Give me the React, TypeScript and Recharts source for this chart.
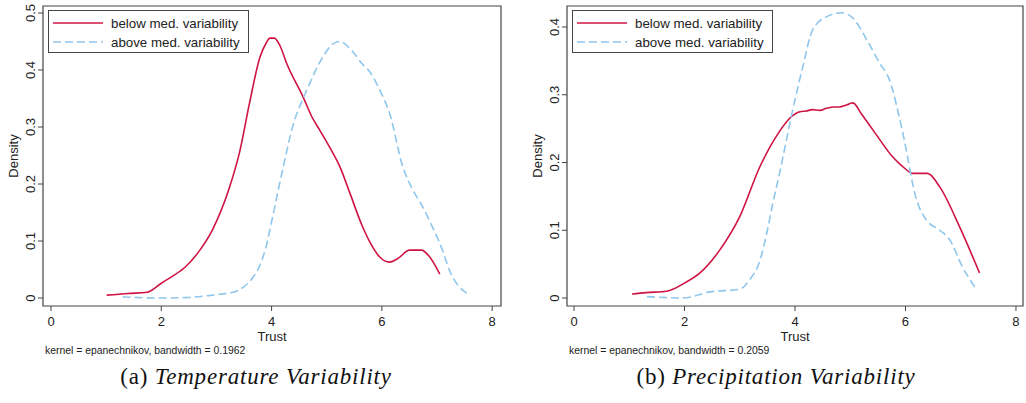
import React from "react";
import { LineChart, Line, XAxis, YAxis, ReferenceArea, Legend } from "recharts";

// Kernel density estimates of Trust
const tempBelow: [number, number][] = [
  [1.01, 0.005], [1.4, 0.008], [1.74, 0.01], [2.0, 0.026], [2.2, 0.038],
  [2.43, 0.054], [2.7, 0.084], [2.93, 0.12], [3.24, 0.195], [3.42, 0.256],
  [3.6, 0.342], [3.79, 0.423], [3.9, 0.447], [3.97, 0.456], [4.05, 0.456],
  [4.15, 0.443], [4.28, 0.41], [4.57, 0.353], [4.73, 0.318], [4.87, 0.295],
  [5.05, 0.265], [5.24, 0.23], [5.42, 0.184], [5.65, 0.125], [5.8, 0.095],
  [5.96, 0.072], [6.14, 0.063], [6.3, 0.07], [6.5, 0.084], [6.72, 0.084],
  [6.85, 0.074], [7.05, 0.042],
];
const tempAbove: [number, number][] = [
  [1.3, 0.002], [1.97, 0.0], [2.5, 0.001], [2.83, 0.004], [3.1, 0.007],
  [3.3, 0.01], [3.5, 0.02], [3.66, 0.036], [3.8, 0.06], [3.9, 0.09],
  [4.02, 0.143], [4.2, 0.225], [4.38, 0.3], [4.64, 0.365], [4.93, 0.423],
  [5.1, 0.445], [5.24, 0.45], [5.42, 0.438], [5.65, 0.41], [5.78, 0.397],
  [5.96, 0.365], [6.14, 0.324], [6.38, 0.23], [6.56, 0.19], [6.74, 0.16],
  [6.9, 0.128], [7.05, 0.096], [7.28, 0.037], [7.4, 0.02], [7.55, 0.008],
];
const precipBelow: [number, number][] = [
  [1.05, 0.006], [1.3, 0.008], [1.68, 0.01], [2.0, 0.022], [2.28, 0.037],
  [2.64, 0.071], [3.0, 0.12], [3.36, 0.193], [3.72, 0.246], [3.9, 0.265],
  [4.09, 0.275], [4.2, 0.276], [4.32, 0.278], [4.45, 0.277], [4.57, 0.28],
  [4.7, 0.282], [4.81, 0.282], [4.9, 0.284], [5.05, 0.288], [5.2, 0.272],
  [5.35, 0.255], [5.48, 0.24], [5.77, 0.208], [5.95, 0.194], [6.13, 0.184],
  [6.4, 0.184], [6.62, 0.164], [6.98, 0.105], [7.34, 0.037],
];
const precipAbove: [number, number][] = [
  [1.32, 0.002], [1.97, 0.0], [2.46, 0.009], [3.0, 0.013], [3.18, 0.027],
  [3.36, 0.054], [3.5, 0.1], [3.6, 0.14], [3.72, 0.184], [3.96, 0.278],
  [4.14, 0.341], [4.32, 0.396], [4.57, 0.415], [4.85, 0.421], [5.05, 0.413],
  [5.3, 0.381], [5.53, 0.347], [5.71, 0.322], [5.95, 0.244], [6.2, 0.145],
  [6.38, 0.115], [6.62, 0.1], [6.8, 0.086], [7.03, 0.046], [7.29, 0.012],
];

const trustTicks = [0, 2, 4, 6, 8];
const tempDensityTicks = [0, 0.1, 0.2, 0.3, 0.4, 0.5];
const precipDensityTicks = [0, 0.1, 0.2, 0.3, 0.4];
const seriesNames = ["below med. variability", "above med. variability"];

const RED = "#cf1444";
const BLUE = "#8fc6ec";
const DASH = "8 4";
const AXIS = "#444";
const INK = "#222";
const SANS = "'Liberation Sans', Arial, sans-serif";
const SERIF = "'Liberation Serif', 'Times New Roman', serif";

const toPoints = (arr: [number, number][]) => arr.map(([x, y]) => ({ x, y }));

function YTick(props: any) {
  const { x, y, payload } = props;
  return (
    <text
      x={x}
      y={y}
      transform={`rotate(-90 ${x} ${y})`}
      textAnchor="middle"
      fontSize={13}
      fill={INK}
      fontFamily={SANS}
    >
      {String(payload.value)}
    </text>
  );
}

function LegendBox() {
  return (
    <svg width={201} height={43} style={{ display: "block" }}>
      <rect x={0.5} y={0.5} width={200} height={42} fill="#fff" stroke={AXIS} strokeWidth={1} />
      <line x1={5} x2={55} y1={13} y2={13} stroke={RED} strokeWidth={1.6} />
      <line x1={5} x2={55} y1={32} y2={32} stroke={BLUE} strokeWidth={1.6} strokeDasharray={DASH} />
      <text x={63} y={18} fontSize={13.3} fill={INK} fontFamily={SANS}>{seriesNames[0]}</text>
      <text x={63} y={37} fontSize={13.3} fill={INK} fontFamily={SANS}>{seriesNames[1]}</text>
    </svg>
  );
}

interface PanelProps {
  left: number;
  width: number;
  yAxisWidth: number;
  marginRight: number;
  xDomain: [number, number];
  yDomain: [number, number];
  yTicks: number[];
  below: [number, number][];
  above: [number, number][];
}

function DensityPanel({ left, width, yAxisWidth, marginRight, xDomain, yDomain, yTicks, below, above }: PanelProps) {
  return (
    <div style={{ position: "absolute", left, top: 0 }}>
      <LineChart width={width} height={346} margin={{ top: 6, right: marginRight, bottom: 0, left: 0 }}>
        <XAxis
          type="number"
          dataKey="x"
          domain={xDomain}
          allowDataOverflow
          ticks={trustTicks}
          tickSize={5}
          tickMargin={6}
          axisLine={false}
          tickLine={{ stroke: AXIS }}
          tick={{ fontSize: 13, fill: INK, fontFamily: SANS }}
          height={40}
          label={{
            content: (p: any) => {
              const vb = p.viewBox;
              return (
                <text x={vb.x + vb.width / 2} y={vb.y + 34.5} textAnchor="middle" fontSize={13} fill={INK} fontFamily={SANS}>
                  Trust
                </text>
              );
            },
          }}
        />
        <YAxis
          type="number"
          domain={yDomain}
          allowDataOverflow
          ticks={yTicks}
          width={yAxisWidth}
          tickSize={5}
          tickMargin={3}
          axisLine={false}
          tickLine={{ stroke: AXIS }}
          tick={<YTick />}
          label={{
            content: (p: any) => {
              const vb = p.viewBox;
              const bx = vb.x + vb.width - 25;
              const by = vb.y + vb.height / 2;
              return (
                <text x={bx} y={by} transform={`rotate(-90 ${bx} ${by})`} textAnchor="middle" fontSize={13} fill={INK} fontFamily={SANS}>
                  Density
                </text>
              );
            },
          }}
        />
        <ReferenceArea
          x1={xDomain[0]}
          x2={xDomain[1]}
          y1={yDomain[0]}
          y2={yDomain[1]}
          fill="none"
          stroke={AXIS}
          strokeWidth={1.2}
        />
        <Line
          data={toPoints(below)}
          dataKey="y"
          name={seriesNames[0]}
          type="monotone"
          stroke={RED}
          strokeWidth={1.6}
          dot={false}
          isAnimationActive={false}
        />
        <Line
          data={toPoints(above)}
          dataKey="y"
          name={seriesNames[1]}
          type="monotone"
          stroke={BLUE}
          strokeWidth={1.6}
          strokeDasharray={DASH}
          dot={false}
          isAnimationActive={false}
        />
        <Legend
          verticalAlign="middle"
          content={() => <LegendBox />}
          wrapperStyle={{ top: 10, left: yAxisWidth + 5, width: 201, height: 43 }}
        />
      </LineChart>
    </div>
  );
}

function Caption({ left, label, title }: { left: number; label: string; title: string }) {
  return (
    <div
      style={{
        position: "absolute",
        left,
        top: 364,
        width: 400,
        textAlign: "center",
        fontFamily: SERIF,
        fontSize: 23,
        letterSpacing: 0.8,
        color: "#111",
        whiteSpace: "nowrap",
      }}
    >
      {label} <i>{title}</i>
    </div>
  );
}

function Note({ left, text }: { left: number; text: string }) {
  return (
    <div
      style={{
        position: "absolute",
        left,
        top: 345,
        fontFamily: SANS,
        fontSize: 10.4,
        color: INK,
        whiteSpace: "nowrap",
      }}
    >
      {text}
    </div>
  );
}

export default function App() {
  return (
    <div style={{ position: "absolute", left: 0, top: 0, width: 1026, height: 403, background: "#fff", overflow: "hidden" }}>
      <DensityPanel
        left={0}
        width={515}
        yAxisWidth={43}
        marginRight={14}
        xDomain={[-0.145, 8.16]}
        yDomain={[-0.014, 0.5123]}
        yTicks={tempDensityTicks}
        below={tempBelow}
        above={tempAbove}
      />
      <DensityPanel
        left={520}
        width={506}
        yAxisWidth={47}
        marginRight={3}
        xDomain={[-0.127, 8.127]}
        yDomain={[-0.0118, 0.431]}
        yTicks={precipDensityTicks}
        below={precipBelow}
        above={precipAbove}
      />
      <Note left={45} text="kernel = epanechnikov, bandwidth = 0.1962" />
      <Note left={569} text="kernel = epanechnikov, bandwidth = 0.2059" />
      <Caption left={56} label="(a)" title="Temperature Variability" />
      <Caption left={576} label="(b)" title="Precipitation Variability" />
    </div>
  );
}
